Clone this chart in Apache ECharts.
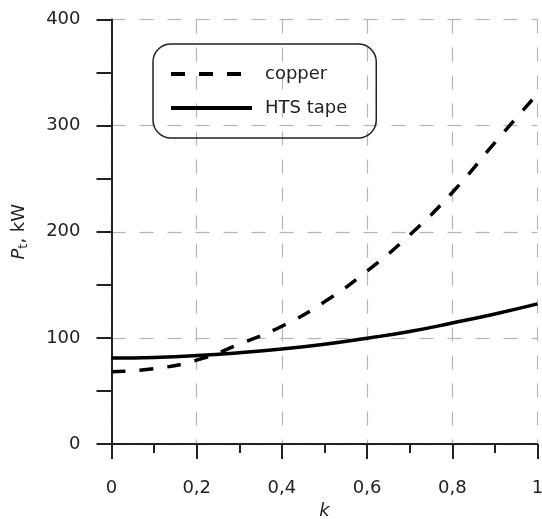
<!DOCTYPE html>
<html>
<head>
<meta charset="utf-8">
<script src="https://cdn.jsdelivr.net/npm/echarts@6/dist/echarts.min.js"></script>
<style>
html,body{margin:0;padding:0;background:#fff;}
#chart{width:542px;height:519px;}
</style>
</head>
<body>
<div id="chart"></div>
<script>
// Data
const kValues = [0, 0.1, 0.2, 0.3, 0.4, 0.5, 0.6, 0.7, 0.8, 0.9, 1.0];
const copperValues = [68, 71, 79, 94, 111, 134, 163, 197, 237, 284, 330];
const htsValues = [81, 81.6, 83.3, 86, 89.5, 94, 99.7, 106, 114, 122.5, 132];
const seriesNames = ['copper', 'HTS tape'];
const yTicks = [0, 100, 200, 300, 400];
const xTicks = [0, 0.2, 0.4, 0.6, 0.8, 1];

const font = '"DejaVu Sans", Arial, sans-serif';
const axisColor = '#222';
const toPairs = (xs, ys) => xs.map((x, i) => [x, ys[i]]);

const chart = echarts.init(document.getElementById('chart'), null, {renderer: 'canvas'});
chart.setOption({
  animation: false,
  backgroundColor: '#fff',
  grid: {left: 111.5, right: 4.5, top: 19.5, bottom: 75, containLabel: false, outerBoundsMode: 'none'},
  legend: {
    orient: 'vertical',
    left: 153, top: 44,
    data: seriesNames,
    itemWidth: 81, itemHeight: 14,
    itemGap: 16,
    padding: [21, 29, 21, 16],
    borderColor: '#222', borderWidth: 1.5, borderRadius: 18,
    itemStyle: {opacity: 0},
    lineStyle: {width: 4},
    textStyle: {fontFamily: font, fontSize: 18, color: '#222', padding: [0, 0, 0, 8]}
  },
  xAxis: {
    type: 'value', min: xTicks[0], max: xTicks[xTicks.length - 1], interval: 0.2,
    name: 'k', nameLocation: 'middle', nameGap: 58,
    nameTextStyle: {fontFamily: font, fontSize: 18, fontStyle: 'italic', color: '#222'},
    axisLine: {show: true, lineStyle: {color: axisColor, width: 2}},
    axisTick: {show: true, length: 15, lineStyle: {color: axisColor, width: 2}},
    minorTick: {show: true, splitNumber: 2, length: 9, lineStyle: {color: axisColor, width: 2}},
    axisLabel: {fontFamily: font, fontSize: 18, color: '#222', margin: 35,
      formatter: v => String(Math.round(v * 10) / 10).replace('.', ',')},
    splitLine: {show: true, lineStyle: {color: '#b5b5b5', width: 1.2, type: [14, 14]}}
  },
  yAxis: {
    type: 'value', min: yTicks[0], max: yTicks[yTicks.length - 1], interval: 100,
    name: '{p|P}{s|t}{n|, kW}', nameLocation: 'middle', nameGap: 81, nameRotate: 90,
    nameTextStyle: {fontFamily: font, fontSize: 18, color: '#222',
      rich: {
        p: {fontFamily: font, fontSize: 18, fontStyle: 'italic', color: '#222'},
        s: {fontFamily: font, fontSize: 13, color: '#222', padding: [10, 0, 0, 0]},
        n: {fontFamily: font, fontSize: 18, color: '#222'}
      }},
    axisLine: {show: true, lineStyle: {color: axisColor, width: 2}},
    axisTick: {show: true, length: 15, lineStyle: {color: axisColor, width: 2}},
    minorTick: {show: true, splitNumber: 2, length: 15, lineStyle: {color: axisColor, width: 2}},
    axisLabel: {fontFamily: font, fontSize: 18, color: '#222', margin: 31},
    splitLine: {show: true, lineStyle: {color: '#b5b5b5', width: 1.2, type: [14, 14]}}
  },
  series: [
    {
      name: seriesNames[0], type: 'line', smooth: true, symbol: 'none',
      data: toPairs(kValues, copperValues),
      lineStyle: {color: '#000', width: 3.5, type: [14, 14]},
      itemStyle: {color: '#000'}
    },
    {
      name: seriesNames[1], type: 'line', smooth: true, symbol: 'none',
      data: toPairs(kValues, htsValues),
      lineStyle: {color: '#000', width: 3.5, type: 'solid'},
      itemStyle: {color: '#000'}
    }
  ]
});
</script>
</body>
</html>
